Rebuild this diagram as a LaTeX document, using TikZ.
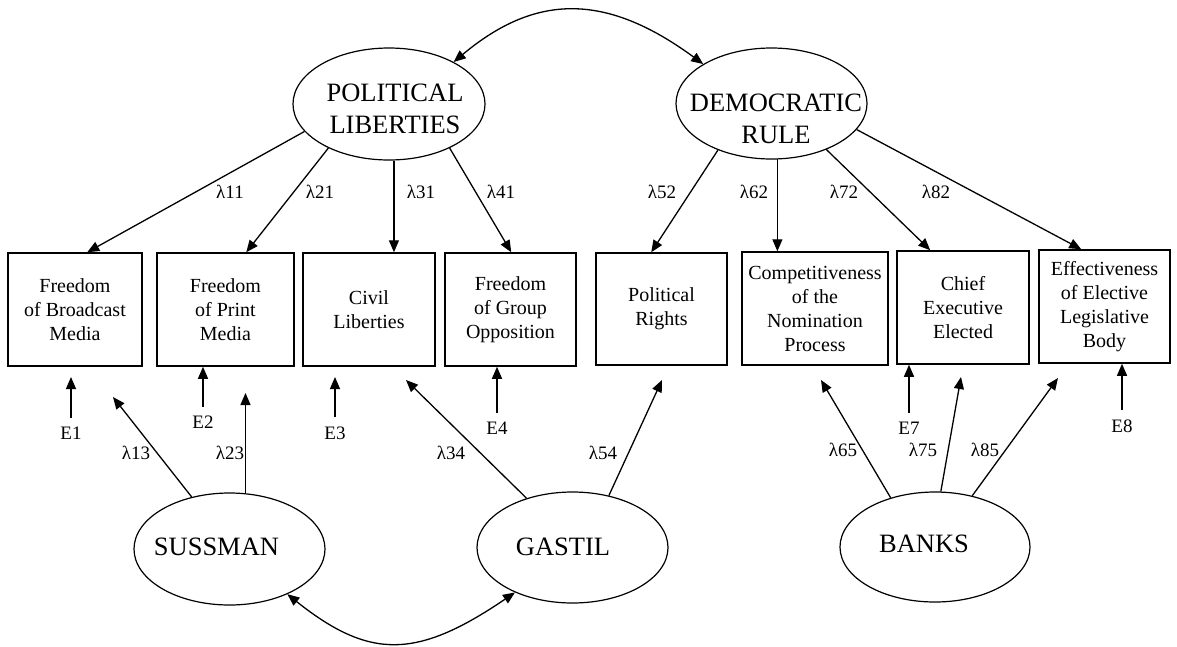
\documentclass[tikz,border=0pt]{standalone}
\usepackage{fontspec}
\setmainfont{Liberation Serif}
\usetikzlibrary{arrows.meta,shapes.geometric}
\begin{document}
\begin{tikzpicture}[x=1pt,y=-1pt,
  ell/.style={draw,ellipse,line width=1.2pt,inner sep=0pt},
  elltext/.style={align=center,font=\fontsize{26.5}{32}\selectfont,inner sep=0pt},
  obs/.style={draw,rectangle,line width=1.5pt,align=center,font=\fontsize{20}{24}\selectfont,inner sep=0pt},
  lab/.style={font=\fontsize{19}{22}\selectfont,inner sep=1pt},
  conn/.style={line width=1.3pt,-{Triangle[length=12pt,width=10pt]}},
  dbl/.style={line width=1.3pt,{Triangle[length=12pt,width=10pt]}-{Triangle[length=12pt,width=10pt]}},
  eline/.style={conn,shorten <=8pt}
]
\useasboundingbox (0,0) rectangle (1177,646);

% latent variables
\node[ell,minimum width=192pt,minimum height=112pt] (pl) at (389,104) {};
\node[elltext] (plt) at (395,109) {POLITICAL\\LIBERTIES};
\node[ell,minimum width=191pt,minimum height=111pt] (dr) at (771.5,103.5) {};
\node[elltext] (drt) at (776,119) {DEMOCRATIC\\RULE};
\node[ell,minimum width=191pt,minimum height=112pt] (sus) at (229.5,549) {};
\node[elltext] (sust) at (216.5,547) {SUSSMAN};
\node[ell,minimum width=191pt,minimum height=111pt] (gas) at (572.5,547.5) {};
\node[elltext] (gast) at (563,547) {GASTIL};
\node[ell,minimum width=190pt,minimum height=110pt] (ban) at (935,547) {};
\node[elltext] (bant) at (924,544) {BANKS};

% observed variables
\node[obs,minimum width=134pt,minimum height=113pt] (b1) at (75,309.5) {Freedom\\of Broadcast\\Media};
\node[obs,minimum width=137pt,minimum height=113pt] (b2) at (225.5,309.5) {Freedom\\of Print\\Media};
\node[obs,minimum width=132pt,minimum height=113pt] (b3) at (369,309.5) {Civil\\Liberties};
\node[obs,minimum width=131pt,minimum height=113pt] (b4) at (510.5,309.5) {Freedom\\of Group\\Opposition};
\node[obs,minimum width=131pt,minimum height=112pt] (b5) at (661.5,309) {Political\\Rights};
\node[obs,minimum width=146pt,minimum height=113pt] (b6) at (815,308.5) {Competitiveness\\of the\\Nomination\\Process};
\node[obs,minimum width=132pt,minimum height=113pt] (b7) at (963,307.5) {Chief\\Executive\\Elected};
\node[obs,minimum width=131pt,minimum height=113pt] (b8) at (1104.5,306.5) {Effectiveness\\of Elective\\Legislative\\Body};

% correlations
\draw[dbl] (pl.33) .. controls (535,-6) and (605,-8) .. (dr.150);
\draw[dbl] (sus.322) .. controls (370,660) and (417,659) .. (gas.218);

% loadings from top factors
\draw[conn] (pl.198) -- ([xshift=80pt]b1.north west);
\draw[conn] (pl.216) -- ([xshift=90pt]b2.north west);
\draw[conn] (pl.275) -- (pl.275 |- b3.north);
\draw[conn] (pl.324) -- ([xshift=67pt]b4.north west);
\draw[conn] (dr.221) -- ([xshift=56pt]b5.north west);
\draw[conn] (dr.276) -- (dr.276 |- b6.north);
\draw[conn] (dr.320) -- ([xshift=34pt]b7.north west);
\draw[conn] (dr.343) -- ([xshift=43pt]b8.north west);

\node[lab] (l11) at (230,192) {λ11};
\node[lab] (l21) at (320,192) {λ21};
\node[lab] (l31) at (421,192) {λ31};
\node[lab] (l41) at (501,192) {λ41};
\node[lab] (l52) at (662,192) {λ52};
\node[lab] (l62) at (754,192) {λ62};
\node[lab] (l72) at (844,192) {λ72};
\node[lab] (l82) at (936,192) {λ82};

% loadings from bottom factors
\coordinate (t13) at (113,397);
\coordinate (t23) at (245,393);
\coordinate (t34) at (406,380);
\coordinate (t54) at (662,380);
\coordinate (t65) at (821,380);
\coordinate (t75) at (961,377);
\coordinate (t85) at (1058,378);
\draw[conn] (sus.126) -- (t13);
\draw[conn] (sus.74) -- (sus.74 |- t23);
\draw[conn] (gas.133) -- (t34);
\draw[conn] (gas.55) -- (t54);
\draw[conn] (ban.132) -- (t65);
\draw[conn] (ban.84) -- (t75);
\draw[conn] (ban.54) -- (t85);

\node[lab] (l13) at (136,453) {λ13};
\node[lab] (l23) at (230,453) {λ23};
\node[lab] (l34) at (451,453) {λ34};
\node[lab] (l54) at (603,453) {λ54};
\node[lab] (l65) at (843,450) {λ65};
\node[lab] (l75) at (923,450) {λ75};
\node[lab] (l85) at (985,450) {λ85};

% error terms
\node[lab] (e1) at (71,433) {E1};
\node[lab] (e2) at (203,422) {E2};
\node[lab] (e3) at (335,433) {E3};
\node[lab] (e4) at (497,428) {E4};
\node[lab] (e7) at (909,428) {E7};
\node[lab] (e8) at (1122,426) {E8};
\coordinate (te1) at (71,377);
\coordinate (te3) at (335,377);
\draw[eline] (e1.north) -- (te1);
\draw[eline] (e2.north) -- (e2.north |- b2.south);
\draw[eline] (e3.north) -- (te3);
\draw[eline] (e4.north) -- (e4.north |- b4.south);
\draw[eline] (e7.north) -- (e7.north |- b7.south);
\draw[eline] (e8.north) -- (e8.north |- b8.south);
\end{tikzpicture}
\end{document}
